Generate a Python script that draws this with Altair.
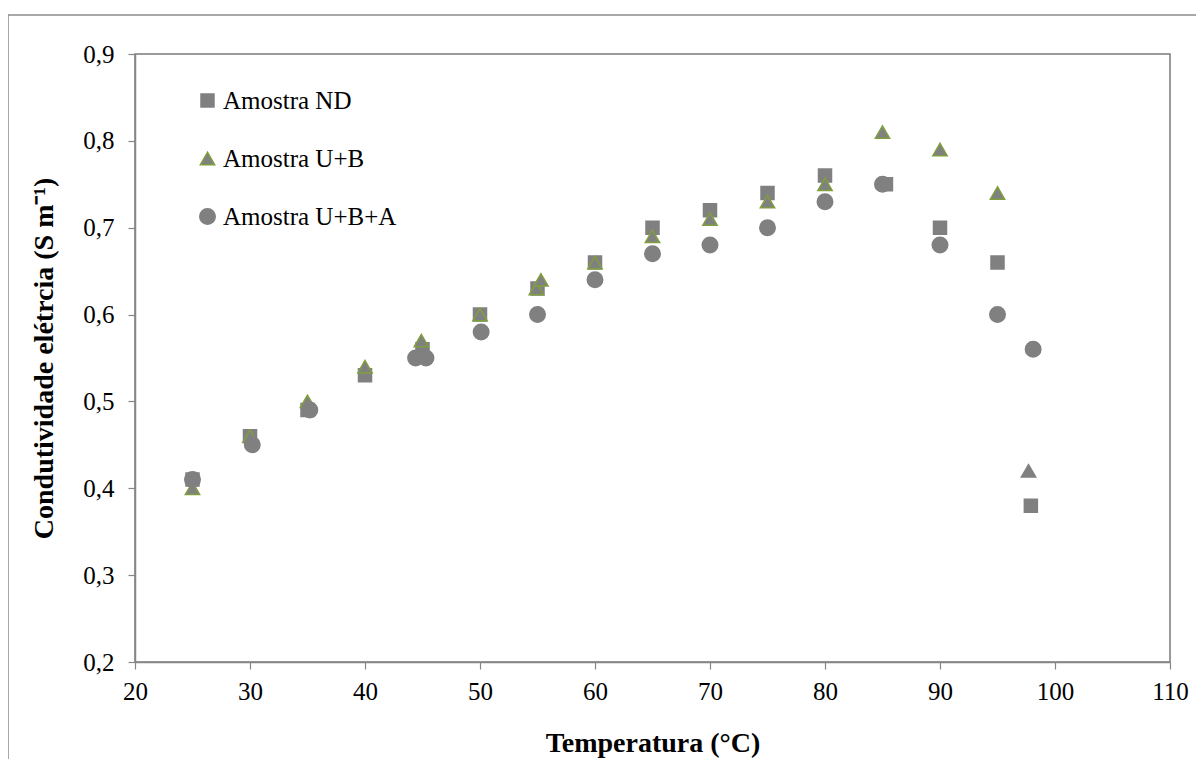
import altair as alt
import pandas as pd

series_names = ["Amostra ND", "Amostra U+B", "Amostra U+B+A"]

nd_temp = [25, 30, 35, 40, 45, 50, 55, 60, 65, 70, 75, 80, 85.3, 90, 95, 97.9]
nd_cond = [0.41, 0.46, 0.49, 0.53, 0.56, 0.60, 0.63, 0.66, 0.70, 0.72, 0.74, 0.76, 0.75, 0.70, 0.66, 0.38]

ub_temp = [25, 30, 35, 40, 44.9, 50, 54.9, 55.3, 60, 65, 70, 75, 80, 85, 90, 95, 97.7]
ub_cond = [0.40, 0.46, 0.50, 0.54, 0.57, 0.60, 0.63, 0.64, 0.66, 0.69, 0.71, 0.73, 0.75, 0.81, 0.79, 0.74, 0.42]
ub_edge = [1, 1, 1, 1, 1, 1, 1, 1, 1, 1, 1, 1, 1, 1, 1, 1, 0]

uba_temp = [25, 30.2, 35.2, 44.4, 45.3, 50.1, 55, 60, 65, 70, 75, 80, 85, 90, 95, 98.1]
uba_cond = [0.41, 0.45, 0.49, 0.55, 0.55, 0.58, 0.60, 0.64, 0.67, 0.68, 0.70, 0.73, 0.75, 0.68, 0.60, 0.56]

x_ticks = [20, 30, 40, 50, 60, 70, 80, 90, 100, 110]
y_ticks = [0.2, 0.3, 0.4, 0.5, 0.6, 0.7, 0.8, 0.9]

rows = []
for t, c in zip(nd_temp, nd_cond):
    rows.append({"serie": series_names[0], "temp": t, "cond": c, "edge": 1, "ord": 0})
for t, c, e in zip(ub_temp, ub_cond, ub_edge):
    rows.append({"serie": series_names[1], "temp": t, "cond": c, "edge": e, "ord": 1})
for t, c in zip(uba_temp, uba_cond):
    rows.append({"serie": series_names[2], "temp": t, "cond": c, "edge": 1, "ord": 2})
df = pd.DataFrame(rows)

GRAY = "#808080"
GREEN = "#7F9F3F"
FONT = "Liberation Serif"

legend = alt.Legend(
    title=None, orient="none", legendX=60, legendY=34, padding=0,
    labelFont=FONT, labelFontSize=25, labelColor="#000000", labelLimit=400,
    rowPadding=32, labelOffset=3, symbolFillColor=GRAY, symbolStrokeWidth=1.5,
    symbolOpacity=1,
)

points = alt.Chart(df).mark_point(filled=True, fill=GRAY, strokeWidth=1.5, opacity=1).encode(
    x=alt.X("temp:Q", scale=alt.Scale(domain=[20, 110], nice=False, zero=False),
            axis=alt.Axis(values=x_ticks, title="Temperatura (°C)", grid=False,
                          labelExpr="datum.value", titlePadding=25, labelFlush=False,
                          labelFont=FONT, labelFontSize=25, labelPadding=10,
                          titleFont=FONT, titleFontSize=28, titleFontWeight="bold")),
    y=alt.Y("cond:Q", scale=alt.Scale(domain=[0.2, 0.9], nice=False, zero=False),
            axis=alt.Axis(values=y_ticks, title="Condutividade elétrcia (S m⁻¹)", grid=False,
                          labelExpr="replace(format(datum.value, '.1f'), '.', ',')",
                          labelFlush=False,
                          titlePadding=24, labelFont=FONT, labelFontSize=25, labelPadding=14,
                          titleFont=FONT, titleFontSize=28, titleFontWeight="bold")),
    shape=alt.Shape("serie:N", scale=alt.Scale(domain=series_names,
                                               range=["square", "triangle-up", "circle"]),
                    legend=legend),
    size=alt.Size("serie:N", scale=alt.Scale(domain=series_names, range=[169, 240, 180]),
                  legend=legend),
    stroke=alt.condition(
        "datum.edge == 0",
        alt.value(GRAY),
        alt.Stroke("serie:N", scale=alt.Scale(domain=series_names, range=[GRAY, GREEN, GRAY]),
                   legend=legend),
    ),
    order=alt.Order("ord:Q"),
)

frame = alt.Chart(pd.DataFrame({"a": [0]})).mark_rect(
    fill=None, stroke="#8c8c8c", strokeWidth=1.5
).encode(
    x=alt.value(-127), x2=alt.value(1300), y=alt.value(-39), y2=alt.value(900)
)

chart = alt.layer(frame, points).properties(
    width=1035, height=608,
    autosize=alt.AutoSizeParams(type="none"),
    padding={"left": 127, "top": 46, "right": 26, "bottom": 97},
    background="#ffffff",
).configure_view(
    stroke="#7a7a7a", strokeWidth=1.5
).configure_axis(
    domainColor="#868686", domainWidth=1.5, tickColor="#868686", tickSize=7, tickWidth=1.2,
    labelColor="#000000", titleColor="#000000",
)

chart.save("out.html", embed_options={"renderer": "svg", "actions": False})
